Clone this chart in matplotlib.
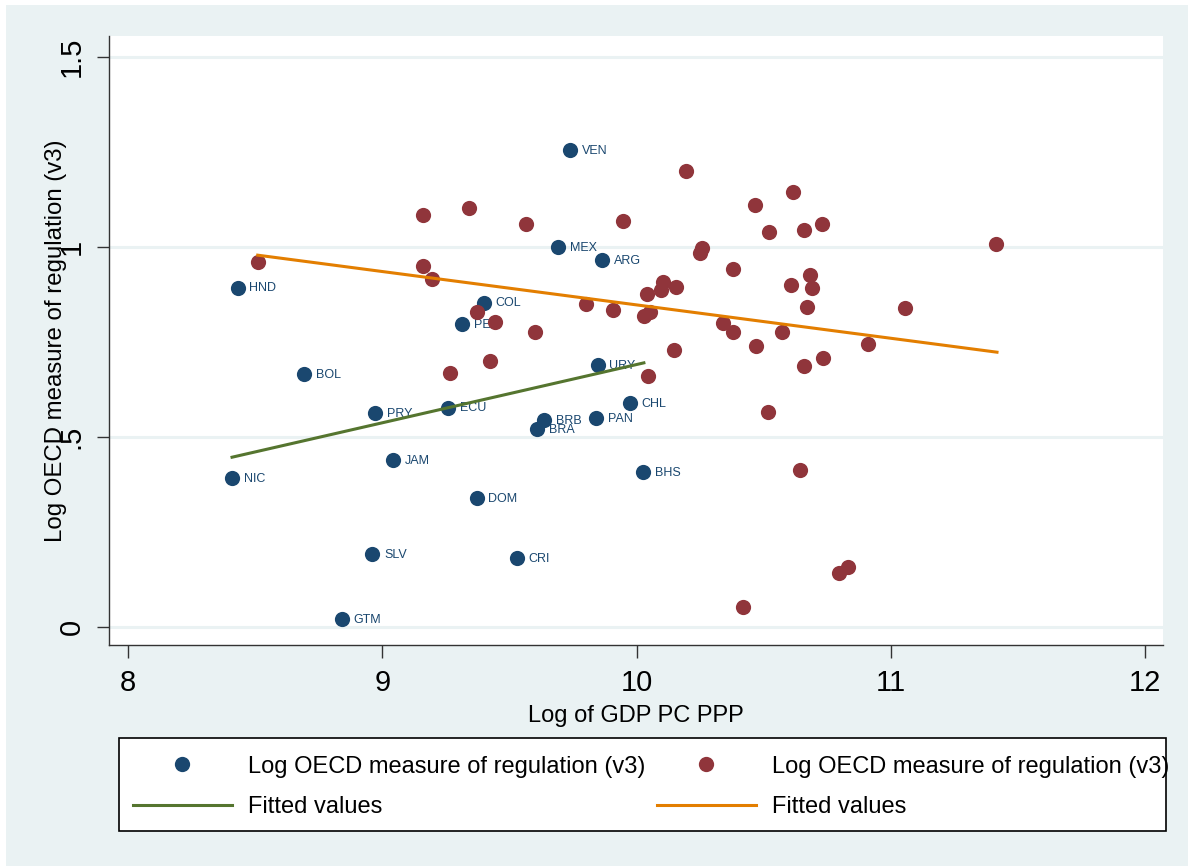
import matplotlib
matplotlib.use("Agg")
import matplotlib.pyplot as plt
from matplotlib.patches import Rectangle
from matplotlib.lines import Line2D

plt.rcParams['font.family'] = ['Liberation Sans', 'DejaVu Sans']

# Latin American countries (labelled)
lat_codes = ['VEN', 'MEX', 'ARG', 'COL', 'PER', 'URY', 'CHL', 'PAN', 'ECU', 'BRB', 'BRA',
             'PRY', 'JAM', 'NIC', 'DOM', 'SLV', 'CRI', 'GTM', 'BHS', 'HND', 'BOL']
lat_gdp = [9.737, 9.690, 9.864, 9.399, 9.315, 9.847, 9.974, 9.842, 9.260, 9.638, 9.610,
           8.972, 9.044, 8.409, 9.371, 8.960, 9.528, 8.841, 10.025, 8.431, 8.692]
lat_reg = [1.254, 0.999, 0.965, 0.853, 0.796, 0.689, 0.590, 0.550, 0.577, 0.545, 0.521,
           0.562, 0.440, 0.392, 0.339, 0.192, 0.182, 0.022, 0.407, 0.893, 0.665]

# other countries
oth_gdp = [8.511, 9.159, 9.341, 9.162, 9.196, 9.374, 9.443, 9.424, 9.266, 9.567,
           9.948, 10.196, 9.802, 9.908, 10.043, 10.105, 10.097, 10.156, 10.055, 10.031,
           9.599, 10.149, 10.046, 10.257, 10.250, 10.615, 10.467, 10.522, 10.660, 10.731,
           11.415, 10.378, 10.681, 10.607, 10.691, 10.672, 11.057, 10.342, 10.381, 10.573,
           10.909, 10.470, 10.734, 10.658, 10.518, 10.642, 10.832, 10.796, 10.420]
oth_reg = [0.961, 1.083, 1.103, 0.949, 0.915, 0.829, 0.803, 0.700, 0.669, 1.060,
           1.069, 1.199, 0.849, 0.835, 0.875, 0.907, 0.886, 0.894, 0.829, 0.818,
           0.777, 0.730, 0.660, 0.996, 0.985, 1.143, 1.111, 1.039, 1.044, 1.060,
           1.008, 0.941, 0.926, 0.900, 0.893, 0.843, 0.839, 0.800, 0.777, 0.777,
           0.745, 0.739, 0.707, 0.688, 0.566, 0.413, 0.158, 0.142, 0.054]

# fitted lines (endpoints)
fit_lat_x = [8.409, 10.029]
fit_lat_y = [0.447, 0.695]
fit_oth_x = [8.510, 11.418]
fit_oth_y = [0.978, 0.723]

legend_labels = ['Log OECD measure of regulation (v3)', 'Fitted values',
                 'Log OECD measure of regulation (v3)', 'Fitted values']

navy = '#1a476f'
maroon = '#90353b'
green = '#55752f'
orange = '#e37e00'
bg = '#eaf2f3'

W, H = 1188, 867
fig = plt.figure(figsize=(W / 100, H / 100), dpi=100, facecolor='white')
fig.patches.append(Rectangle((6 / W, 1 / H), 1 - 6 / W, 1 - 6 / H, transform=fig.transFigure,
                             facecolor=bg, edgecolor='none', zorder=-10))

ax = fig.add_axes([109 / W, (H - 645) / H, (1163 - 109) / W, (645 - 36) / H])
ax.set_facecolor('white')

ax.scatter(lat_gdp, lat_reg, s=120, color=navy, linewidths=0, zorder=3)
for c, x, y in zip(lat_codes, lat_gdp, lat_reg):
    ax.annotate(c, (x, y), xytext=(8.5, -0.5), textcoords='offset points',
                ha='left', va='center', fontsize=9, color=navy, zorder=3)
ax.scatter(oth_gdp, oth_reg, s=120, color=maroon, linewidths=0, zorder=4)
ax.plot(fit_lat_x, fit_lat_y, color=green, lw=2.2, zorder=5)
ax.plot(fit_oth_x, fit_oth_y, color=orange, lw=2.2, zorder=5)

ax.set_xlim(7.925, 12.071)
ax.set_ylim(-0.0465, 1.554)
ax.set_xticks([8, 9, 10, 11, 12])
ax.set_yticks([0, 0.5, 1, 1.5])
ax.set_yticklabels(['0', '.5', '1', '1.5'])
ax.yaxis.grid(True, color=bg, lw=2.2)
ax.set_axisbelow(True)

for s in ['top', 'right']:
    ax.spines[s].set_visible(False)
for s in ['left', 'bottom']:
    ax.spines[s].set_color('#333333')
    ax.spines[s].set_linewidth(1.0)

ax.tick_params(axis='both', length=9, width=1, color='#333333', labelsize=21)
ax.tick_params(axis='x', pad=8)
ax.tick_params(axis='y', pad=8, labelrotation=90)
for lab in ax.get_yticklabels():
    lab.set_va('center')

ax.set_xlabel('Log of GDP PC PPP', fontsize=17, labelpad=6)
ax.set_ylabel('Log OECD measure of regulation (v3)', fontsize=17.3, labelpad=-7)

# legend box, drawn separately so the long right-hand label can run past it
fig.patches.append(Rectangle((119 / W, 1 - 831 / H), (1166 - 119) / W, (831 - 738) / H,
                             transform=fig.transFigure, facecolor='white',
                             edgecolor='black', lw=1.2, zorder=1))

handles = [
    Line2D([], [], marker='o', ls='none', color=navy, markersize=11, markeredgewidth=0),
    Line2D([], [], color=green, lw=2.2),
    Line2D([], [], marker='o', ls='none', color=maroon, markersize=11, markeredgewidth=0),
    Line2D([], [], color=orange, lw=2.2),
]
leg = fig.legend(handles, legend_labels, ncol=2, loc='upper left',
                 bbox_to_anchor=(115 / W, 1 - 738 / H),
                 bbox_transform=fig.transFigure, fontsize=17.0, frameon=False,
                 handlelength=4.2, handletextpad=0.7, labelspacing=0.77,
                 columnspacing=0.46, borderpad=0.75, borderaxespad=0)
leg.set_zorder(2)

fig.savefig('out.png', dpi=100, facecolor=fig.get_facecolor())
